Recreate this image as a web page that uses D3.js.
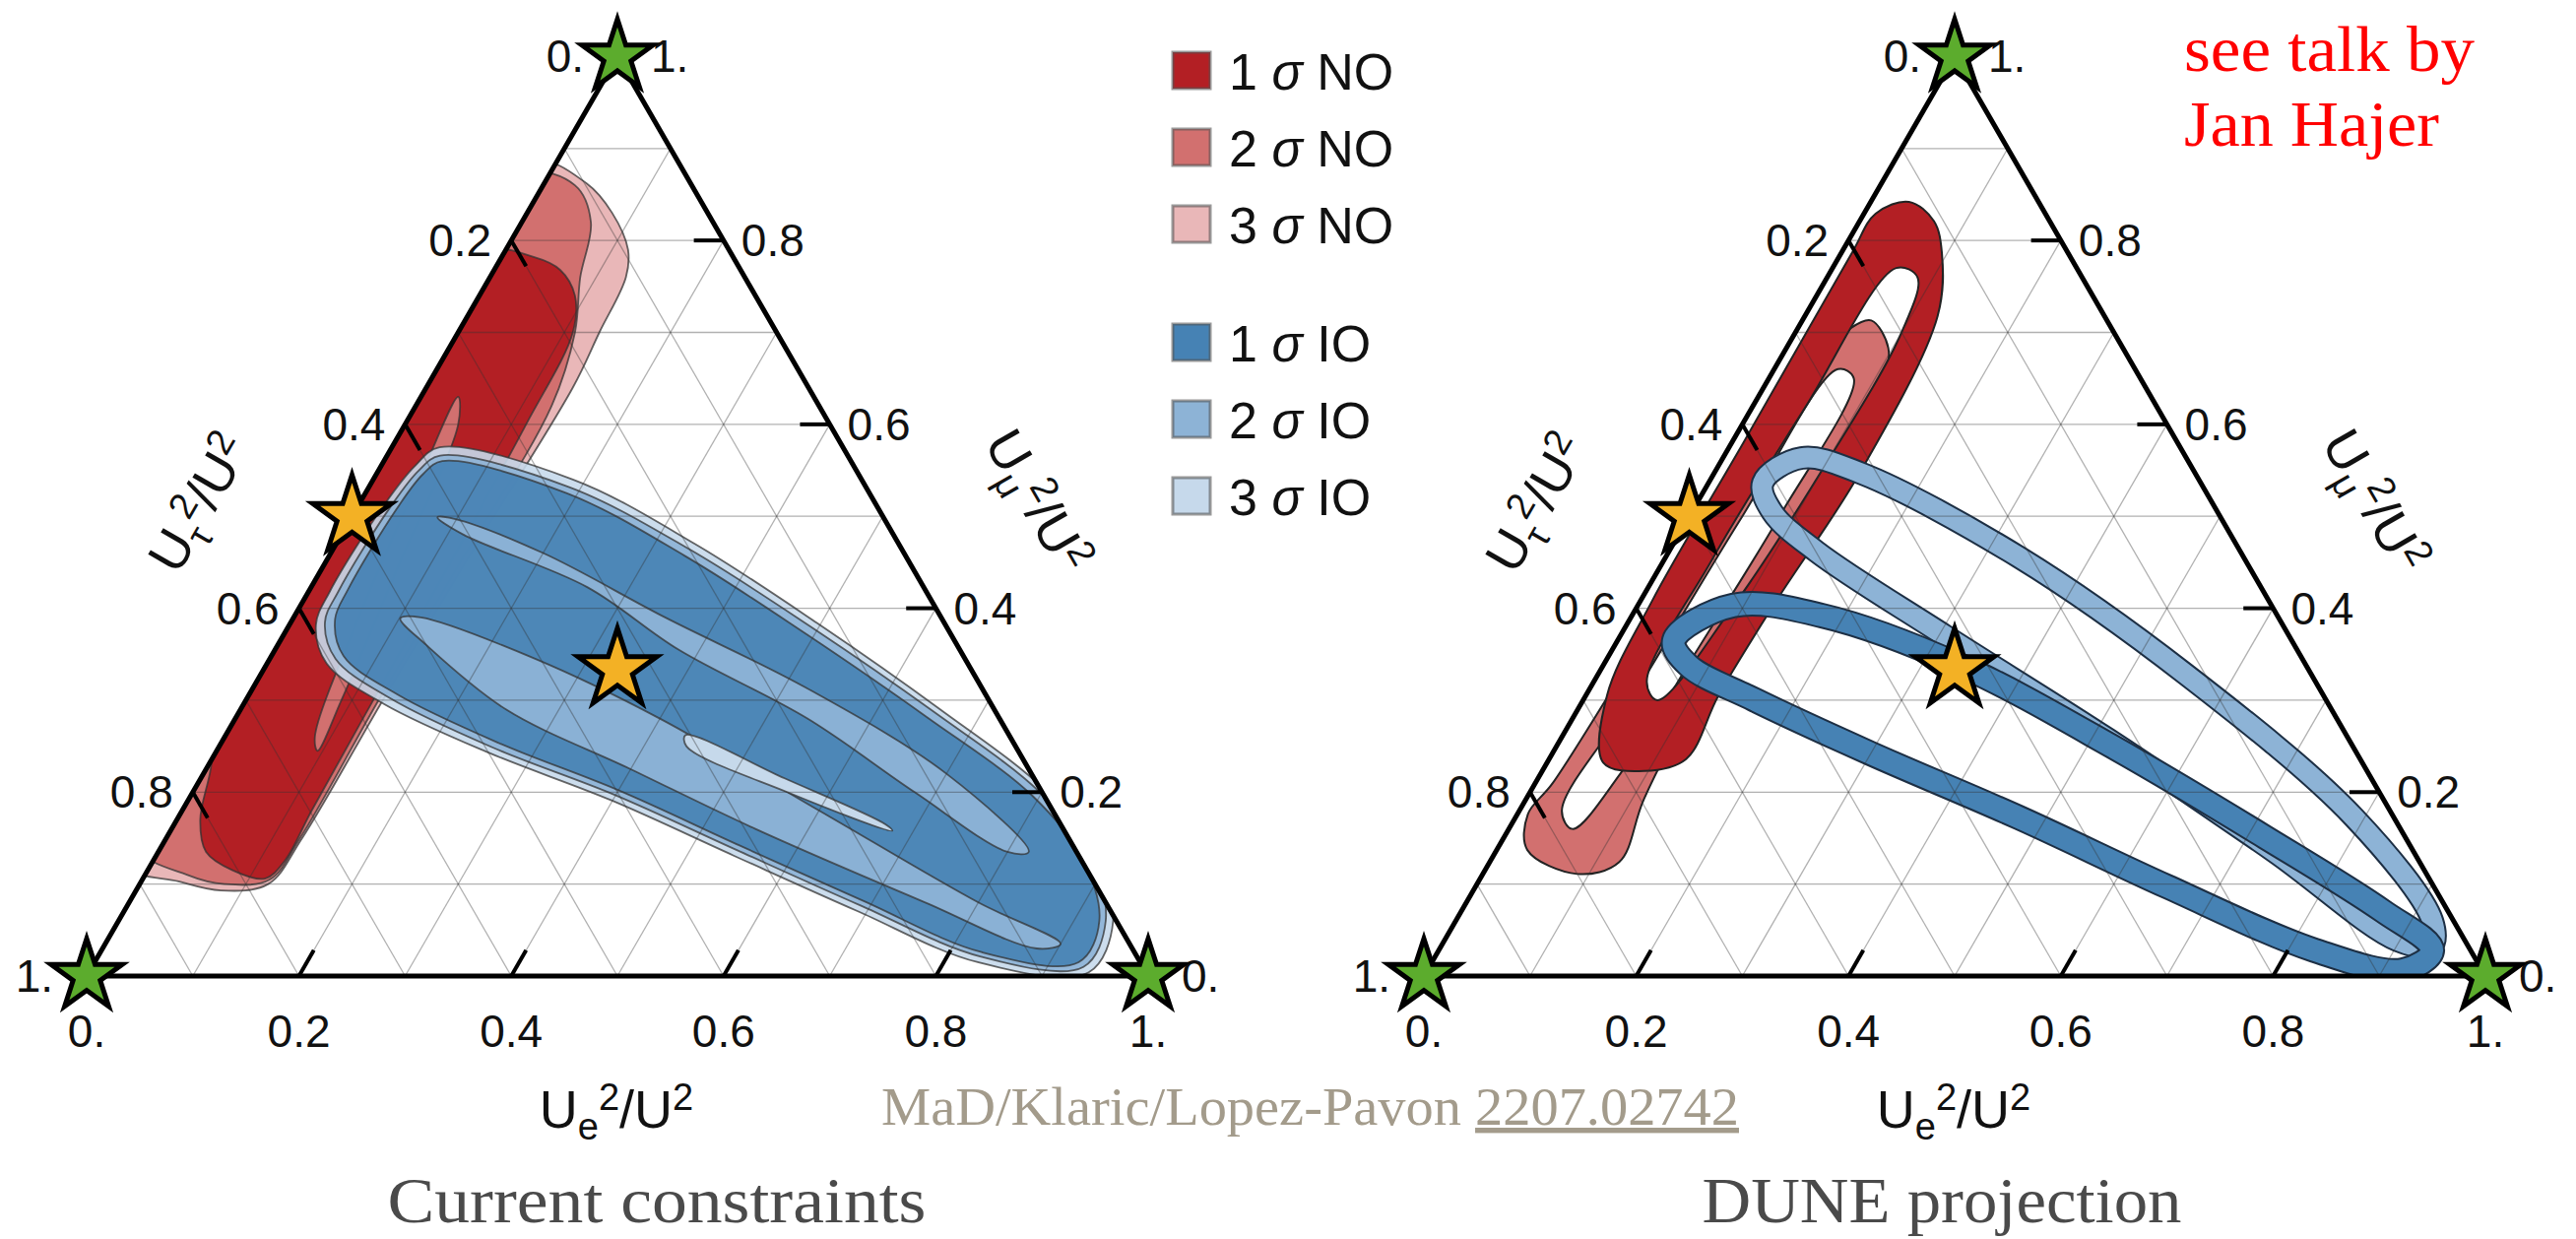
<!DOCTYPE html>
<html>
<head>
<meta charset="utf-8">
<script src="https://cdn.jsdelivr.net/npm/d3@7"></script>
<style>
  body { margin: 0; background: #fff; }
  svg { display: block; }
</style>
</head>
<body>
<svg id="chart" width="2616" height="1258"></svg>
<script>
// points are [Ue^2/U^2, Umu^2/U^2], Utau^2/U^2 = 1 - both

const tickValues = [0, 0.2, 0.4, 0.6, 0.8, 1];
const tickLabels = ['0.', '0.2', '0.4', '0.6', '0.8', '1.'];
const gridValues = [0.1, 0.2, 0.3, 0.4, 0.5, 0.6, 0.7, 0.8, 0.9];

const legendNames = ['1 σ NO', '2 σ NO', '3 σ NO', '1 σ IO', '2 σ IO', '3 σ IO'];
const noColors = ['#b31f24', '#d2706f', '#e9b7b8'];
const ioColors = ['#4682b4', '#8db3d6', '#c6d9eb'];

const vertexStars = [[0, 0], [1, 0], [0, 1]];
const bestFitStars = [[0, 0.5], [1 / 3, 1 / 3]];

// ---- current constraints ----
const curNO3 = [[-0.02,0.885],[0.04,0.862],[0.08,0.83],[0.115,0.79],[0.128,0.76],[0.133,0.7],[0.138,0.64],[0.132,0.45],[0.129,0.3],[0.128,0.15],[0.121,0.1],[0.08,0.093],[0.035,0.103],[-0.02,0.12],[-0.02,0.3],[-0.02,0.5],[-0.02,0.7]];
const curNO2 = [[-0.02,0.872],[0.03,0.86],[0.065,0.82],[0.085,0.76],[0.11,0.7],[0.128,0.62],[0.127,0.45],[0.125,0.3],[0.126,0.15],[0.12,0.105],[0.08,0.1],[0.04,0.11],[-0.02,0.14],[-0.02,0.3],[-0.02,0.5],[-0.02,0.7]];
const curNO1 = [[-0.02,0.788],[0.03,0.782],[0.062,0.768],[0.09,0.74],[0.108,0.7],[0.114,0.6],[0.118,0.45],[0.12,0.3],[0.122,0.18],[0.124,0.125],[0.115,0.106],[0.08,0.115],[0.045,0.135],[0.022,0.17],[0.006,0.22],[-0.02,0.3],[-0.02,0.5],[-0.02,0.65]];
const curNOgap = [[0.035,0.63],[0.05,0.6],[0.07,0.45],[0.09,0.3],[0.095,0.245],[0.085,0.26],[0.06,0.4],[0.042,0.55]];

const curIO3 = [[0.045,0.575],[0.188,0.54],[0.338,0.47],[0.496,0.384],[0.659,0.29],[0.802,0.202],[0.883,0.134],[0.937,0.06],[0.942,0.004],[0.832,0.015],[0.69,0.071],[0.544,0.131],[0.399,0.191],[0.257,0.243],[0.132,0.296],[0.056,0.34],[0.025,0.382],[0.02,0.418],[0.024,0.512],[0.032,0.555]];
const curIO2 = [[0.05,0.566],[0.188,0.532],[0.336,0.464],[0.492,0.38],[0.655,0.287],[0.798,0.2],[0.878,0.133],[0.93,0.06],[0.934,0.01],[0.832,0.021],[0.69,0.077],[0.544,0.137],[0.399,0.197],[0.257,0.249],[0.135,0.302],[0.062,0.345],[0.032,0.385],[0.028,0.418],[0.031,0.51],[0.038,0.55]];
const curIO1 = [[0.055,0.56],[0.19,0.525],[0.335,0.457],[0.49,0.373],[0.65,0.282],[0.793,0.196],[0.872,0.13],[0.924,0.06],[0.927,0.015],[0.83,0.026],[0.69,0.082],[0.544,0.142],[0.4,0.202],[0.26,0.254],[0.14,0.306],[0.068,0.348],[0.04,0.388],[0.036,0.42],[0.038,0.508],[0.044,0.546]];
const curIOgapUpper = [[0.081,0.499],[0.099,0.497],[0.2,0.46],[0.35,0.39],[0.522,0.313],[0.7,0.22],[0.82,0.135],[0.8,0.135],[0.68,0.2],[0.539,0.28],[0.38,0.355],[0.26,0.423],[0.115,0.48]];
const curIOgapLower = [[0.101,0.389],[0.12,0.39],[0.25,0.345],[0.4,0.28],[0.6,0.18],[0.8,0.08],[0.9,0.035],[0.88,0.03],[0.75,0.08],[0.55,0.16],[0.4,0.225],[0.25,0.29],[0.14,0.36]];
const curIOgap3 = [[0.433,0.262],[0.55,0.215],[0.67,0.165],[0.68,0.158],[0.56,0.2],[0.44,0.25]];

// ---- DUNE projection ----
const duneNO2outer = [[0.065,0.713],[0.096,0.683],[0.108,0.649],[0.108,0.511],[0.104,0.331],[0.111,0.193],[0.122,0.124],[0.089,0.111],[0.029,0.137],[0.01,0.176],[0.0165,0.21],[0.024,0.382],[0.032,0.554],[0.0415,0.675],[0.05,0.705]];
const duneNO2inner = [[0.06,0.66],[0.08,0.65],[0.085,0.5],[0.08,0.35],[0.075,0.22],[0.06,0.16],[0.04,0.18],[0.045,0.3],[0.05,0.5]];
const duneNO1outer = [[0.036,0.842],[0.07,0.821],[0.095,0.786],[0.125,0.718],[0.137,0.546],[0.128,0.408],[0.125,0.305],[0.129,0.236],[0.096,0.223],[0.053,0.232],[0.02,0.305],[0.011,0.408],[0.011,0.58],[0.01,0.786],[0.011,0.829]];
const duneNO1inner = [[0.06,0.77],[0.085,0.76],[0.1,0.7],[0.1,0.55],[0.09,0.4],[0.07,0.3],[0.05,0.32],[0.045,0.45],[0.05,0.62]];
const duneIO1ring = [[0.053,0.365],[0.09,0.403],[0.179,0.392],[0.336,0.338],[0.529,0.247],[0.717,0.151],[0.868,0.0707],[0.936,0.028],[0.919,0.0064],[0.825,0.028],[0.651,0.0975],[0.474,0.1725],[0.3,0.242],[0.16,0.301],[0.08,0.338]];
const duneIO2ring = [[0.051,0.5366],[0.074,0.5634],[0.138,0.547],[0.332,0.456],[0.554,0.328],[0.79,0.1725],[0.92,0.06],[0.933,0.0332],[0.898,0.0386],[0.734,0.135],[0.515,0.258],[0.305,0.3706],[0.139,0.4617],[0.076,0.5045]];

const panels = [
  { left: 88, caption: 'Current constraints', capX: 667, capW: 547 },
  { left: 1446, caption: 'DUNE projection', capX: 1972, capW: 487 }
];

const side = 1078, baseY = 991;
const svg = d3.select('#chart');
const smooth = d3.line().curve(d3.curveCatmullRomClosed.alpha(0.5));
const axisFont = 'Liberation Sans, Arial, Helvetica, sans-serif';
const serifFont = 'Liberation Serif, Times New Roman, serif';

function starPath(r) {
  return d3.symbol(d3.symbolStar).size(r * r / 0.8908130915292852)();
}

panels.forEach((p, pi) => {
  const xS = d3.scaleLinear().domain([0, 1]).range([p.left, p.left + side]);
  const yS = d3.scaleLinear().domain([0, 1]).range([baseY, baseY - side * Math.sqrt(3) / 2]);
  const proj = d => [xS(d[0] + d[1] / 2), yS(d[1])];
  const corners = [[0, 0], [1, 0], [0, 1]];
  const framePath = 'M' + corners.map(proj).join('L') + 'Z';

  svg.append('clipPath').attr('id', 'tri' + pi).append('path').attr('d', framePath);
  const g = svg.append('g');
  const gr = g.append('g').attr('clip-path', `url(#tri${pi})`);

  const region = (pts, fill, op) => gr.append('path')
    .attr('d', smooth(pts.map(proj)))
    .attr('fill', fill).attr('fill-opacity', op || 1)
    .attr('stroke', '#333').attr('stroke-opacity', 0.75).attr('stroke-width', 1.8);
  const holed = (outer, inner, fill) => gr.append('path')
    .attr('d', smooth(outer.map(proj)) + smooth(inner.map(proj)))
    .attr('fill', fill).attr('fill-rule', 'evenodd')
    .attr('stroke', '#222').attr('stroke-width', 2);
  const ring = (pts, fill, w) => {
    gr.append('path').attr('d', smooth(pts.map(proj)))
      .attr('fill', 'none').attr('stroke', '#1d2f44').attr('stroke-width', w + 4);
    gr.append('path').attr('d', smooth(pts.map(proj)))
      .attr('fill', 'none').attr('stroke', fill).attr('stroke-width', w);
  };

  if (pi === 0) {
    region(curNO3, noColors[2]);
    region(curNO2, noColors[1]);
    region(curNO1, noColors[0]);
    region(curNOgap, noColors[1]);
    region(curIO3, ioColors[2], 0.9);
    region(curIO2, ioColors[1], 0.9);
    region(curIO1, ioColors[0], 0.92);
    region(curIOgapUpper, ioColors[1], 0.95);
    region(curIOgapLower, ioColors[1], 0.95);
    region(curIOgap3, ioColors[2]);
  } else {
    holed(duneNO2outer, duneNO2inner, noColors[1]);
    holed(duneNO1outer, duneNO1inner, noColors[0]);
    ring(duneIO2ring, ioColors[1], 20);
    ring(duneIO1ring, ioColors[0], 22);
  }

  // grid
  const gridSegs = [];
  gridValues.forEach(v => {
    gridSegs.push([[v, 0], [v, 1 - v]]);
    gridSegs.push([[0, v], [1 - v, v]]);
    gridSegs.push([[1 - v, 0], [0, 1 - v]]);
  });
  g.append('g').selectAll('line').data(gridSegs).join('line')
    .attr('x1', d => proj(d[0])[0]).attr('y1', d => proj(d[0])[1])
    .attr('x2', d => proj(d[1])[0]).attr('y2', d => proj(d[1])[1])
    .attr('stroke', '#333').attr('stroke-opacity', 0.38).attr('stroke-width', 1.3);

  // frame
  g.append('path').attr('d', framePath)
    .attr('fill', 'none').attr('stroke', '#000').attr('stroke-width', 5).attr('stroke-linejoin', 'round');

  // ticks
  const inner = tickValues.slice(1, -1);
  const tl = 0.028;
  const tickSegs = [];
  inner.forEach(v => {
    tickSegs.push([[v, 0], [v, tl]]);                 // Ue axis
    tickSegs.push([[0, 1 - v], [tl, 1 - v - tl]]);    // Utau axis
    tickSegs.push([[1 - v, v], [1 - v - tl, v]]);     // Umu axis
  });
  g.append('g').selectAll('line').data(tickSegs).join('line')
    .attr('x1', d => proj(d[0])[0]).attr('y1', d => proj(d[0])[1])
    .attr('x2', d => proj(d[1])[0]).attr('y2', d => proj(d[1])[1])
    .attr('stroke', '#000').attr('stroke-width', 4);

  // tick labels
  const lab = g.append('g').attr('font-family', axisFont).attr('font-size', 46).attr('fill', '#111');
  tickValues.forEach((v, i) => {
    const edge = (v === 0 || v === 1);
    let pt = proj([v, 0]);
    lab.append('text').attr('x', pt[0]).attr('y', pt[1] + 72).attr('text-anchor', 'middle').text(tickLabels[i]);
    pt = proj([0, 1 - v]);
    lab.append('text').attr('x', pt[0] - (edge ? 34 : 20)).attr('y', pt[1] + 16).attr('text-anchor', 'end').text(tickLabels[i]);
    pt = proj([1 - v, v]);
    lab.append('text').attr('x', pt[0] + (edge ? 34 : 18)).attr('y', pt[1] + 16).attr('text-anchor', 'start').text(tickLabels[i]);
  });

  // axis titles
  const title = (x, y, rot, sub) => {
    const t = g.append('text').attr('font-family', axisFont).attr('font-size', 54).attr('fill', '#111')
      .attr('text-anchor', 'middle')
      .attr('transform', `translate(${x},${y}) rotate(${rot})`);
    t.append('tspan').text('U');
    t.append('tspan').attr('dy', 12).attr('font-size', 38).text(sub);
    t.append('tspan').attr('dy', -30).attr('font-size', 38).text('2');
    t.append('tspan').attr('dy', 18).text('/U');
    t.append('tspan').attr('dy', -18).attr('font-size', 38).text('2');
  };
  title(p.left + 538, 1145, 0, 'e');
  title(p.left + 130, 520, -60, 'τ');
  title(p.left + 950, 518, 60, 'μ');

  // stars
  g.append('g').selectAll('path').data(vertexStars).join('path')
    .attr('d', starPath(38))
    .attr('transform', d => `translate(${proj(d)})`)
    .attr('fill', '#5cac2d').attr('stroke', '#000').attr('stroke-width', 5);
  g.append('g').selectAll('path').data(bestFitStars).join('path')
    .attr('d', starPath(42))
    .attr('transform', d => `translate(${proj(d)})`)
    .attr('fill', '#f3b125').attr('stroke', '#000').attr('stroke-width', 5);

  // caption
  svg.append('text').attr('x', p.capX).attr('y', 1241)
    .attr('font-family', serifFont).attr('font-size', 66).attr('fill', '#4a4a4a')
    .attr('text-anchor', 'middle')
    .attr('textLength', p.capW).attr('lengthAdjust', 'spacingAndGlyphs')
    .text(p.caption);
});

// legend
const legendRows = legendNames.map((name, i) => ({
  name: name,
  color: i < 3 ? noColors[i] : ioColors[i - 3],
  y: 72 + i * 78 + (i < 3 ? 0 : 42)
}));
const leg = svg.append('g').attr('font-family', axisFont).attr('font-size', 52).attr('fill', '#111');
leg.selectAll('rect').data(legendRows).join('rect')
  .attr('x', 1191).attr('y', d => d.y - 19).attr('width', 38).attr('height', 37)
  .attr('fill', d => d.color).attr('stroke', '#555').attr('stroke-opacity', 0.6).attr('stroke-width', 3);
const lt = leg.selectAll('text').data(legendRows).join('text')
  .attr('x', 1248).attr('y', d => d.y + 19);
lt.append('tspan').text(d => d.name.split(' ')[0] + ' ');
lt.append('tspan').attr('font-style', 'italic').text('σ');
lt.append('tspan').text(d => ' ' + d.name.split(' ')[2]);

// notes
const cite = svg.append('text').attr('x', 895).attr('y', 1142)
  .attr('font-family', serifFont).attr('font-size', 54).attr('fill', '#a39b8b')
  .attr('textLength', 871).attr('lengthAdjust', 'spacingAndGlyphs');
cite.append('tspan').text('MaD/Klaric/Lopez-Pavon ');
cite.append('tspan').attr('text-decoration', 'underline').text('2207.02742');

const note = svg.append('text').attr('font-family', serifFont).attr('font-size', 66).attr('fill', '#ff0000');
note.append('tspan').attr('x', 2218).attr('y', 72).attr('textLength', 295).attr('lengthAdjust', 'spacingAndGlyphs').text('see talk by');
note.append('tspan').attr('x', 2218).attr('y', 148).attr('textLength', 259).attr('lengthAdjust', 'spacingAndGlyphs').text('Jan Hajer');
</script>
</body>
</html>
